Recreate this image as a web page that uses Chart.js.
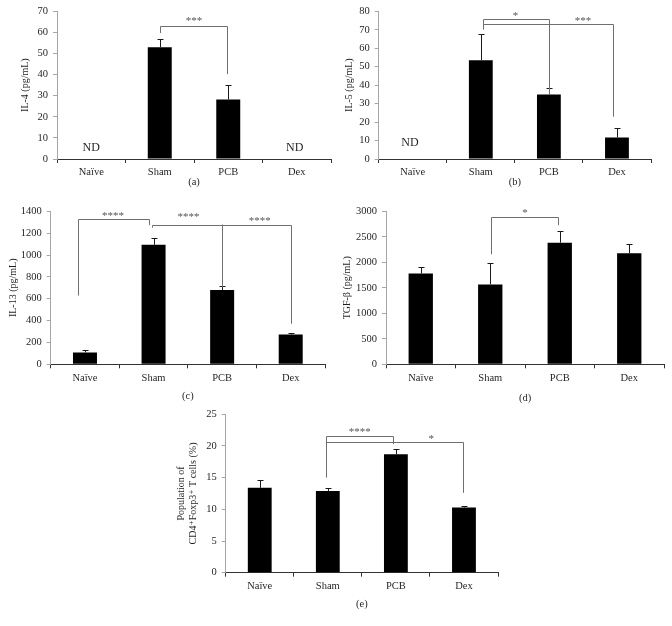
<!DOCTYPE html>
<html>
<head>
<meta charset="utf-8">
<script src="https://cdn.jsdelivr.net/npm/chart.js@4.4.1/dist/chart.umd.min.js"></script>
<style>
  body { margin: 0; background: #fff; width: 672px; height: 626px; position: relative; overflow: hidden; }
  canvas { position: absolute; }
</style>
</head>
<body>
<canvas id="panel-a" width="336" height="200" style="left:0;top:0"></canvas>
<canvas id="panel-b" width="336" height="200" style="left:336px;top:0"></canvas>
<canvas id="panel-c" width="336" height="220" style="left:0;top:200px"></canvas>
<canvas id="panel-d" width="336" height="220" style="left:336px;top:200px"></canvas>
<canvas id="panel-e" width="340" height="226" style="left:160px;top:400px"></canvas>
<script>
// groups on every x axis
const groups = ['Naïve', 'Sham', 'PCB', 'Dex'];

// means and upper error (SEM)
const il4Mean = [null, 53.0, 28.2, null];
const il4Err = [null, 4.1, 7.1, null];
const il5Mean = [null, 53.5, 35.0, 11.7];
const il5Err = [null, 14.4, 3.7, 4.9];
const il13Mean = [109, 1094, 680, 272];
const il13Err = [21, 58, 33, 18];
const tgfMean = [1781, 1567, 2384, 2178];
const tgfErr = [136, 428, 221, 175];
const tregMean = [13.4, 12.9, 18.7, 10.3];
const tregErr = [1.2, 0.4, 0.8, 0.3];

// y axis ranges [max, step]
const il4Axis = [70, 10];
const il5Axis = [80, 10];
const il13Axis = [1400, 200];
const tgfAxis = [3000, 500];
const tregAxis = [25, 5];

// "not detected" labels: [group index, value]
const il4ND = [[0, 5.8], [2.97, 5.8]];
const il5ND = [[-0.04, 9]];

// significance brackets: legs at group positions, heights in data units
const il4Sig = [
  { from: 1, to: 1.98, top: 62.9, fromEnd: 59.7, toEnd: 40.2, mark: '***', at: 1.5, markY: 66.5 }
];
const il5Sig = [
  { from: 1.03, to: 2, top: 76, fromEnd: 70, toEnd: 35, mark: '*', at: 1.51, markY: 78.4 },
  { from: 1.03, to: 2.94, top: 73, fromEnd: 73, toEnd: 22.9, mark: '***', at: 2.5, markY: 76 }
];
const il13Sig = [
  { from: -0.1, to: 0.93, top: 1334, fromEnd: 629, toEnd: 1273, mark: '****', at: 0.41, markY: 1376 },
  { from: 0.98, to: 2, top: 1279, fromEnd: 1250, toEnd: 705, mark: '****', at: 1.51, markY: 1364 },
  { from: 2, to: 3.01, top: 1279, fromEnd: 1279, toEnd: 372, mark: '****', at: 2.55, markY: 1334 }
];
const tgfSig = [
  { from: 1.01, to: 1.98, top: 2890, fromEnd: 2158, toEnd: 2728, mark: '*', at: 1.5, markY: 3013 }
];
const tregSig = [
  { from: 0.98, to: 1.96, top: 21.6, fromEnd: 15.0, toEnd: 20.3, mark: '****', at: 1.47, markY: 22.6 },
  { from: 0.98, to: 2.98, top: 20.6, fromEnd: 20.6, toEnd: 12.6, mark: '*', at: 2.52, markY: 21.4 }
];

const serif = 'Liberation Serif, DejaVu Serif, serif';
const ink = '#231f20';

function glyphText(ctx, text, px, py) {
  // centre the inked glyphs on (px, py)
  ctx.textBaseline = 'alphabetic';
  const m = ctx.measureText(text);
  ctx.fillText(text, px, py + (m.actualBoundingBoxAscent - m.actualBoundingBoxDescent) / 2);
}

const marks = {
  id: 'marks',
  afterDatasetsDraw(chart, args, opts) {
    const { ctx } = chart;
    const x = chart.scales.x, y = chart.scales.y;
    ctx.save();

    // error bars, upper side only
    ctx.strokeStyle = '#1a1a1a';
    ctx.lineWidth = 1;
    opts.mean.forEach((v, i) => {
      if (v == null || opts.err[i] == null) return;
      const px = Math.round(x.getPixelForValue(i)) + 0.5;
      const top = Math.round(y.getPixelForValue(v + opts.err[i])) + 0.5;
      ctx.beginPath();
      ctx.moveTo(px, y.getPixelForValue(v));
      ctx.lineTo(px, top);
      ctx.moveTo(px - 3, top);
      ctx.lineTo(px + 3, top);
      ctx.stroke();
    });

    // brackets and stars
    ctx.strokeStyle = '#6f6f6f';
    ctx.fillStyle = '#555';
    ctx.font = '11px ' + serif;
    ctx.textAlign = 'center';
    (opts.sig || []).forEach(b => {
      const x1 = Math.round(x.getPixelForValue(b.from)) + 0.5;
      const x2 = Math.round(x.getPixelForValue(b.to)) + 0.5;
      const yt = Math.round(y.getPixelForValue(b.top)) + 0.5;
      ctx.beginPath();
      ctx.moveTo(x1, y.getPixelForValue(b.fromEnd));
      ctx.lineTo(x1, yt);
      ctx.lineTo(x2, yt);
      ctx.lineTo(x2, y.getPixelForValue(b.toEnd));
      ctx.stroke();
      glyphText(ctx, b.mark, x.getPixelForValue(b.at), y.getPixelForValue(b.markY));
    });

    // ND labels
    ctx.fillStyle = ink;
    ctx.font = '12px ' + serif;
    (opts.nd || []).forEach(([g, v]) => {
      glyphText(ctx, 'ND', x.getPixelForValue(g), y.getPixelForValue(v));
    });
    ctx.restore();
  }
};

function panel(id, cfg) {
  const el = document.getElementById(id);
  const w = el.width, h = el.height;
  const a = cfg.area;
  const yLh = cfg.yLine || 12;
  const padLeft = cfg.yTitleX - yLh / 2;
  const yW = a.l - padLeft;
  const xH = cfg.xTitleY + 6 - a.b;
  const tickFont = { family: serif, size: 10.5, lineHeight: 1.2 };

  new Chart(el, {
    type: 'bar',
    data: {
      labels: groups,
      datasets: [{
        data: cfg.mean,
        backgroundColor: '#000',
        borderWidth: 0,
        barPercentage: 0.35,
        categoryPercentage: 1
      }]
    },
    options: {
      responsive: false,
      animation: false,
      events: [],
      layout: {
        padding: { left: padLeft, top: a.t, right: w - a.r, bottom: h - a.b - xH }
      },
      plugins: {
        legend: { display: false },
        tooltip: { enabled: false },
        marks: { mean: cfg.mean, err: cfg.err, sig: cfg.sig, nd: cfg.nd }
      },
      scales: {
        x: {
          grid: { drawOnChartArea: false, offset: true, tickLength: 4, color: '#333' },
          border: { color: '#333', width: 1 },
          ticks: { color: ink, font: tickFont, padding: 3.2 },
          title: { display: true, text: cfg.tag, color: ink, font: { family: serif, size: 10.5, lineHeight: 1.143 }, padding: 0 },
          afterFit: s => { s.height = xH; }
        },
        y: {
          min: 0,
          max: cfg.axis[0],
          ticks: { stepSize: cfg.axis[1], color: ink, font: tickFont, padding: 5, format: { useGrouping: false } },
          grid: { drawOnChartArea: false, tickLength: 4, color: '#a6a6a6' },
          border: { color: '#a6a6a6', width: 1 },
          title: {
            display: true, text: cfg.yTitle, color: ink,
            font: { family: serif, size: 10, lineHeight: yLh / 10 }, padding: 0
          },
          afterFit: s => { s.width = yW; }
        }
      }
    },
    plugins: [marks]
  });
}

panel('panel-a', {
  mean: il4Mean, err: il4Err, axis: il4Axis, sig: il4Sig, nd: il4ND,
  yTitle: 'IL-4 (pg/mL)', tag: '(a)',
  area: { l: 57, t: 11, r: 331, b: 159 }, yTitleX: 25, xTitleY: 182.7
});
panel('panel-b', {
  mean: il5Mean, err: il5Err, axis: il5Axis, sig: il5Sig, nd: il5ND,
  yTitle: 'IL-5 (pg/mL)', tag: '(b)',
  area: { l: 42.7, t: 11, r: 315, b: 159 }, yTitleX: 13.3, xTitleY: 182.7
});
panel('panel-c', {
  mean: il13Mean, err: il13Err, axis: il13Axis, sig: il13Sig,
  yTitle: 'IL-13 (pg/mL)', tag: '(c)',
  area: { l: 50.7, t: 10, r: 325, b: 164.3 }, yTitleX: 13.3, xTitleY: 196.7
});
panel('panel-d', {
  mean: tgfMean, err: tgfErr, axis: tgfAxis, sig: tgfSig,
  yTitle: 'TGF-β (pg/mL)', tag: '(d)',
  area: { l: 50, t: 10, r: 328, b: 164.3 }, yTitleX: 11, xTitleY: 198.3
});
panel('panel-e', {
  mean: tregMean, err: tregErr, axis: tregAxis, sig: tregSig,
  yTitle: ['Population of', 'CD4⁺Foxp3⁺ T cells (%)'], tag: '(e)', yLine: 11.6,
  area: { l: 65.7, t: 14.3, r: 338, b: 172.7 }, yTitleX: 21.7, xTitleY: 204.3
});
</script>
</body>
</html>
